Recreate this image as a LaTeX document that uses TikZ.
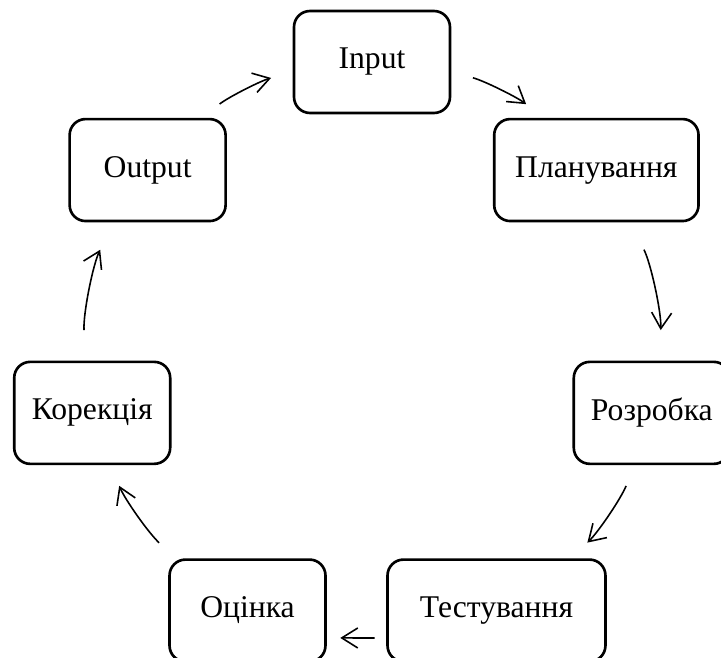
\documentclass[tikz,border=0pt]{standalone}
\usepackage{fontspec}
\setmainfont{Liberation Serif}
\usetikzlibrary{arrows.meta}

\tikzset{
  stage/.style={draw, line width=1.5pt, rounded corners=0.32cm,
    minimum width=3.12cm, minimum height=2.04cm, inner xsep=0.42cm,
    font=\fontsize{18}{22}\selectfont},
  flow/.style={line width=0.9pt, looseness=0.85,
    -{Straight Barb[length=3.2mm, width=4mm]}}
}

\begin{document}
\begin{tikzpicture}[x=0.02cm, y=0.02cm]
  \useasboundingbox (-372,-309) rectangle (349,349);
  \def\rad{287}

  % stages on a circle
  \node[stage] (input)  at (90:\rad)      {Input};
  \node[stage] (plan)   at (38.57:\rad)   {Планування};
  \node[stage, inner xsep=0.3cm] (dev) at (-12.86:\rad) {Розробка};
  \node[stage, minimum width=4.36cm, yshift=-0.06cm] (test) at (-64.29:\rad) {Тестування};
  \node[stage, yshift=-0.06cm] (eval) at (-115.71:\rad) {Оцінка};
  \node[stage, inner xsep=0.3cm] (fix) at (-167.14:\rad) {Корекція};
  \node[stage] (output) at (141.43:\rad)  {Output};

  % cycle
  \draw[flow, shorten <=0.45cm, shorten >=0.45cm] (input.-7.7) to[bend left=10.8] (plan.135.7);
  \draw[flow, shorten <=0.61cm, shorten >=0.61cm] (plan.-57.3) to[bend left=14.75] (dev.82.3);
  \draw[flow, shorten <=0.45cm, shorten >=0.45cm] (dev.-108.2) to[bend left=11.6] (test.35.9);
  \draw[flow, shorten <=0.23cm, shorten >=0.27cm] (test.194.1) -- (eval.-19.4);
  \draw[flow, shorten <=0.45cm, shorten >=0.45cm] (eval.144.1) to[bend left=11.6] (fix.-71.8);
  \draw[flow, shorten <=0.61cm, shorten >=0.61cm] (fix.97.7) to[bend left=14.75] (output.237.3);
  \draw[flow, shorten <=0.45cm, shorten >=0.45cm] (output.44.1) to[bend left=10.8] (input.187.7);
\end{tikzpicture}
\end{document}
